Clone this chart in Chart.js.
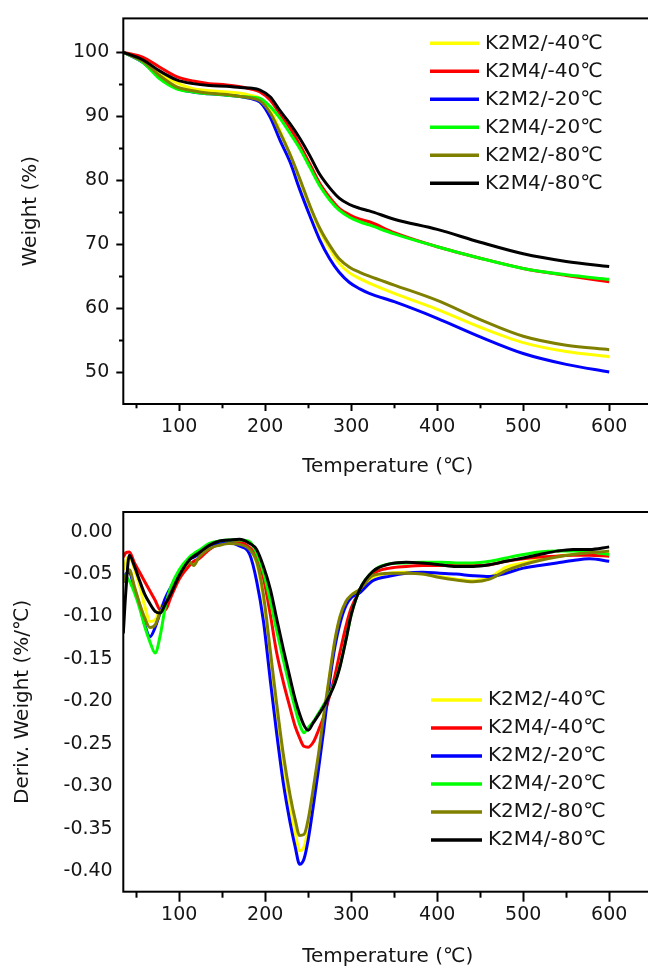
<!DOCTYPE html>
<html>
<head>
<meta charset="utf-8">
<script src="https://cdn.jsdelivr.net/npm/chart.js@4.4.1/dist/chart.umd.min.js"></script>
<style>
  html, body { margin: 0; padding: 0; background: #fff; }
  body { width: 648px; height: 972px; overflow: hidden; position: relative; }
  canvas { position: absolute; left: 0; }
  #tga { top: 0; }
  #dtg { top: 490px; }
</style>
</head>
<body>
<canvas id="tga" width="680" height="490"></canvas>
<canvas id="dtg" width="680" height="482"></canvas>
<script>
// 樣品名稱與顏色
const seriesNames = ["K2M2/-40℃", "K2M4/-40℃", "K2M2/-20℃", "K2M4/-20℃", "K2M2/-80℃", "K2M4/-80℃"];
const seriesColors = ["#ffff00", "#ff0000", "#0000ff", "#00ff00", "#808000", "#000000"];

// 刻度
const xTicks = [50, 100, 150, 200, 250, 300, 350, 400, 450, 500, 550, 600];
const yTicksTop = [50, 55, 60, 65, 70, 75, 80, 85, 90, 95, 100];
const yTicksBottom = [0, -0.05, -0.10, -0.15, -0.20, -0.25, -0.30, -0.35, -0.40];

// TGA 重量 (%)
const tempTop = [35, 58, 77, 97, 116, 135, 155, 171, 182, 194, 206, 217, 229, 240, 252, 263, 275, 286, 298, 310, 321, 350, 400, 450, 500, 550, 600];
const wtK2M2_40 = [100, 98.7, 96.7, 95.2, 94.3, 94.0, 93.8, 93.6, 93.3, 92.8, 91.0, 87.8, 84.0, 80.0, 75.8, 72.2, 69.3, 67.0, 65.5, 64.6, 63.9, 62.3, 59.8, 57.0, 54.6, 53.2, 52.4];
const wtK2M4_40 = [100, 99.2, 97.7, 96.2, 95.5, 95.1, 94.9, 94.6, 94.3, 93.8, 92.5, 90.4, 88.1, 85.6, 82.5, 79.6, 77.3, 75.6, 74.6, 73.9, 73.5, 71.8, 69.6, 67.8, 66.2, 65.1, 64.1];
const wtK2M2_20 = [100, 98.4, 96.1, 94.4, 93.8, 93.5, 93.3, 93.1, 92.8, 92.2, 89.8, 86.3, 82.8, 78.6, 74.4, 70.8, 67.7, 65.6, 64.0, 63.0, 62.3, 61.0, 58.4, 55.5, 52.9, 51.2, 50.0];
const wtK2M4_20 = [100, 98.4, 95.9, 94.3, 93.8, 93.5, 93.3, 93.1, 93.0, 92.8, 91.5, 89.7, 87.3, 85.0, 82.0, 79.2, 76.9, 75.3, 74.2, 73.5, 73.0, 71.6, 69.6, 67.8, 66.2, 65.2, 64.5];
const wtK2M2_80 = [100, 98.6, 96.4, 94.6, 94.0, 93.6, 93.4, 93.1, 92.9, 92.4, 90.5, 87.5, 84.0, 80.3, 76.0, 72.6, 69.8, 67.7, 66.4, 65.6, 65.0, 63.6, 61.2, 58.2, 55.6, 54.2, 53.5];
const wtK2M4_80 = [100, 98.8, 97.1, 95.7, 95.1, 94.8, 94.7, 94.5, 94.4, 94.1, 93.0, 90.9, 88.8, 86.6, 83.8, 81.0, 78.8, 77.2, 76.2, 75.6, 75.2, 73.9, 72.3, 70.3, 68.5, 67.3, 66.5];

// DTG 微分重量 (%/℃)
const tempBottom = [35, 38, 42, 48, 54, 60, 66, 72, 78, 84, 90, 100, 112, 117, 123, 135, 147, 158, 170, 182,
  190, 198, 206, 213, 221, 229, 235, 240, 245, 250, 256, 262, 268, 275, 281, 287, 294, 300, 310, 325,
  345, 364, 383, 403, 422, 442, 461, 480, 500, 519, 539, 558, 577, 600];
const dK2M2_40 = [-0.045, -0.035, -0.029, -0.045, -0.064, -0.088, -0.106, -0.104, -0.090, -0.080,
  -0.070, -0.054, -0.038, -0.038, -0.031, -0.020, -0.015, -0.013, -0.014, -0.021,
  -0.037, -0.080, -0.148, -0.210, -0.272, -0.323, -0.355, -0.376, -0.372, -0.350,
  -0.310, -0.266, -0.219, -0.170, -0.130, -0.101, -0.083, -0.075, -0.068, -0.054,
  -0.049, -0.048, -0.050, -0.053, -0.056, -0.058, -0.054, -0.042, -0.037, -0.033,
  -0.029, -0.027, -0.026, -0.025];
const dK2M4_40 = [-0.030, -0.025, -0.024, -0.037, -0.048, -0.059, -0.070, -0.081, -0.092, -0.092,
  -0.078, -0.056, -0.040, -0.035, -0.032, -0.021, -0.014, -0.011, -0.012, -0.019,
  -0.028, -0.055, -0.098, -0.141, -0.177, -0.208, -0.230, -0.243, -0.253, -0.254,
  -0.248, -0.234, -0.218, -0.193, -0.170, -0.142, -0.111, -0.090, -0.070, -0.050,
  -0.043, -0.041, -0.040, -0.040, -0.040, -0.040, -0.039, -0.035, -0.032, -0.030,
  -0.029, -0.028, -0.028, -0.029];
const dK2M2_20 = [-0.060, -0.050, -0.048, -0.068, -0.087, -0.110, -0.124, -0.113, -0.095, -0.078,
  -0.066, -0.049, -0.033, -0.030, -0.027, -0.019, -0.014, -0.013, -0.017, -0.027,
  -0.058, -0.106, -0.176, -0.235, -0.296, -0.343, -0.372, -0.392, -0.386, -0.363,
  -0.323, -0.280, -0.234, -0.176, -0.136, -0.108, -0.087, -0.078, -0.072, -0.058,
  -0.0525, -0.049, -0.048, -0.049, -0.050, -0.052, -0.053, -0.049, -0.043, -0.040,
  -0.037, -0.034, -0.032, -0.035];
const dK2M4_20 = [-0.052, -0.053, -0.058, -0.072, -0.090, -0.112, -0.130, -0.143, -0.122, -0.088,
  -0.066, -0.045, -0.030, -0.026, -0.022, -0.014, -0.011, -0.010, -0.010, -0.012,
  -0.025, -0.048, -0.082, -0.115, -0.151, -0.185, -0.209, -0.227, -0.237, -0.231,
  -0.224, -0.214, -0.204, -0.191, -0.178, -0.158, -0.127, -0.098, -0.068, -0.047,
  -0.038, -0.037, -0.036, -0.036, -0.037, -0.037, -0.035, -0.031, -0.027, -0.024,
  -0.023, -0.023, -0.024, -0.027];
const dK2M2_80 = [-0.060, -0.052, -0.045, -0.065, -0.085, -0.102, -0.113, -0.110, -0.095, -0.085,
  -0.072, -0.052, -0.036, -0.040, -0.030, -0.020, -0.016, -0.014, -0.015, -0.021,
  -0.035, -0.075, -0.141, -0.200, -0.262, -0.311, -0.340, -0.358, -0.357, -0.339,
  -0.302, -0.262, -0.217, -0.168, -0.128, -0.100, -0.082, -0.075, -0.068, -0.052,
  -0.049, -0.049, -0.050, -0.054, -0.057, -0.059, -0.056, -0.046, -0.039, -0.034,
  -0.030, -0.027, -0.025, -0.023];
const dK2M4_80 = [-0.120, -0.070, -0.028, -0.041, -0.058, -0.074, -0.085, -0.094, -0.096, -0.085,
  -0.074, -0.052, -0.033, -0.029, -0.025, -0.016, -0.011, -0.010, -0.009, -0.014,
  -0.021, -0.041, -0.068, -0.101, -0.138, -0.173, -0.198, -0.215, -0.228, -0.234,
  -0.225, -0.216, -0.206, -0.193, -0.179, -0.159, -0.127, -0.098, -0.068, -0.047,
  -0.038, -0.036, -0.037, -0.039, -0.041, -0.041, -0.039, -0.035, -0.031, -0.027,
  -0.023, -0.021, -0.021, -0.018];

const FONT = "'DejaVu Sans', 'Noto Sans CJK SC', sans-serif";
const TEXT = "#151515";

// 圖框
const framePlugin = {
  id: "frame",
  afterDraw(chart) {
    const { ctx, chartArea: a } = chart;
    ctx.save();
    ctx.strokeStyle = "#000";
    ctx.lineWidth = 2;
    ctx.strokeRect(a.left, a.top, a.right - a.left, a.bottom - a.top);
    ctx.restore();
  }
};

// 圖內圖例
const insideLegend = {
  id: "insideLegend",
  afterDatasetsDraw(chart, args, opts) {
    const ctx = chart.ctx;
    ctx.save();
    ctx.font = "20px " + FONT;
    ctx.textBaseline = "middle";
    ctx.textAlign = "left";
    chart.data.datasets.forEach((ds, i) => {
      const y = opts.y + i * opts.step;
      ctx.strokeStyle = ds.borderColor;
      ctx.lineWidth = 3.5;
      ctx.beginPath();
      ctx.moveTo(opts.x, y);
      ctx.lineTo(opts.x + opts.len, y);
      ctx.stroke();
      ctx.fillStyle = TEXT;
      ctx.fillText(ds.label, opts.x + opts.len + 6, y);
    });
    ctx.restore();
  }
};

function makeChart(id, temps, series, cfg) {
  const datasets = series.map((vals, i) => ({
    label: seriesNames[i],
    data: vals.map((v, j) => ({ x: temps[j], y: v })),
    borderColor: seriesColors[i],
    borderWidth: 3,
    pointRadius: 0,
    fill: false,
    cubicInterpolationMode: "monotone",
    order: series.length - 1 - i // 黑線在最上層
  }));

  return new Chart(document.getElementById(id), {
    type: "line",
    data: { datasets },
    plugins: [framePlugin, insideLegend],
    options: {
      responsive: false,
      animation: false,
      devicePixelRatio: 1,
      layout: { padding: { top: cfg.padTop, right: 27.8, bottom: 0, left: 0 } },
      plugins: {
        legend: { display: false },
        tooltip: { enabled: false },
        insideLegend: cfg.legend
      },
      scales: {
        x: {
          type: "linear",
          min: 35,
          max: 650,
          afterBuildTicks: s => { s.ticks = xTicks.map(v => ({ value: v })); },
          afterFit: s => { s.height = cfg.xHeight; },
          border: { display: false },
          grid: {
            drawOnChartArea: false,
            tickLength: cfg.xTickLen,
            tickWidth: 2,
            tickColor: "#000",
            tickBorderDash: c => (c.tick && c.tick.value % 100 !== 0) ? [cfg.xMinorLen, 40] : []
          },
          ticks: {
            padding: cfg.xTickPad,
            autoSkip: false,
            maxRotation: 0,
            color: TEXT,
            font: { family: FONT, size: 19 },
            callback: v => (v % 100 === 0 ? String(v) : "")
          },
          title: {
            display: true,
            text: "Temperature (℃)",
            color: TEXT,
            font: { family: FONT, size: 20 },
            padding: { top: 0, bottom: cfg.xTitlePad }
          }
        },
        y: {
          type: "linear",
          min: cfg.yMin,
          max: cfg.yMax,
          afterBuildTicks: s => { s.ticks = cfg.yTicks.map(v => ({ value: v })); },
          afterFit: s => { s.width = 123.3; },
          border: { display: false },
          grid: cfg.yGrid,
          ticks: {
            padding: cfg.yTickPad,
            autoSkip: false,
            color: TEXT,
            font: { family: FONT, size: 19 },
            callback: cfg.yLabel
          },
          title: {
            display: true,
            text: cfg.yTitle,
            color: TEXT,
            font: { family: FONT, size: 20 },
            padding: { top: cfg.yTitlePad, bottom: 0 }
          }
        }
      }
    }
  });
}

window.onload = () => {
  makeChart("tga", tempTop, [wtK2M2_40, wtK2M4_40, wtK2M2_20, wtK2M4_20, wtK2M2_80, wtK2M4_80], {
    padTop: 14,
    xHeight: 86,
    xTickLen: 7,
    xMinorLen: 4.3,
    xTickPad: 5,
    xTitlePad: 11,
    yMin: 45,
    yMax: 105.3,
    yTicks: yTicksTop,
    yGrid: {
      drawOnChartArea: false,
      tickLength: 7,
      tickWidth: 2,
      tickColor: "#000",
      tickBorderDash: c => (c.tick && c.tick.value % 10 !== 0) ? [0, 2.7, 4.3, 40] : []
    },
    yTickPad: 7,
    yLabel: v => (v % 10 === 0 ? String(v) : ""),
    yTitle: "Weight (%)",
    yTitlePad: 19,
    legend: { x: 430, y: 43.3, step: 28, len: 49 }
  });

  makeChart("dtg", tempBottom, [dK2M2_40, dK2M4_40, dK2M2_20, dK2M4_20, dK2M2_80, dK2M4_80], {
    padTop: 15,
    xHeight: 80.3,
    xTickLen: 10,
    xMinorLen: 5.7,
    xTickPad: 2,
    xTitlePad: 3,
    yMin: -0.4243,
    yMax: 0.0231,
    yTicks: yTicksBottom,
    yGrid: { display: false, drawTicks: false },
    yTickPad: 10.6,
    yLabel: v => v.toFixed(2),
    yTitle: "Deriv. Weight (%/℃)",
    yTitlePad: 10.7,
    legend: { x: 431, y: 210, step: 28, len: 51 }
  });
};
</script>
</body>
</html>
